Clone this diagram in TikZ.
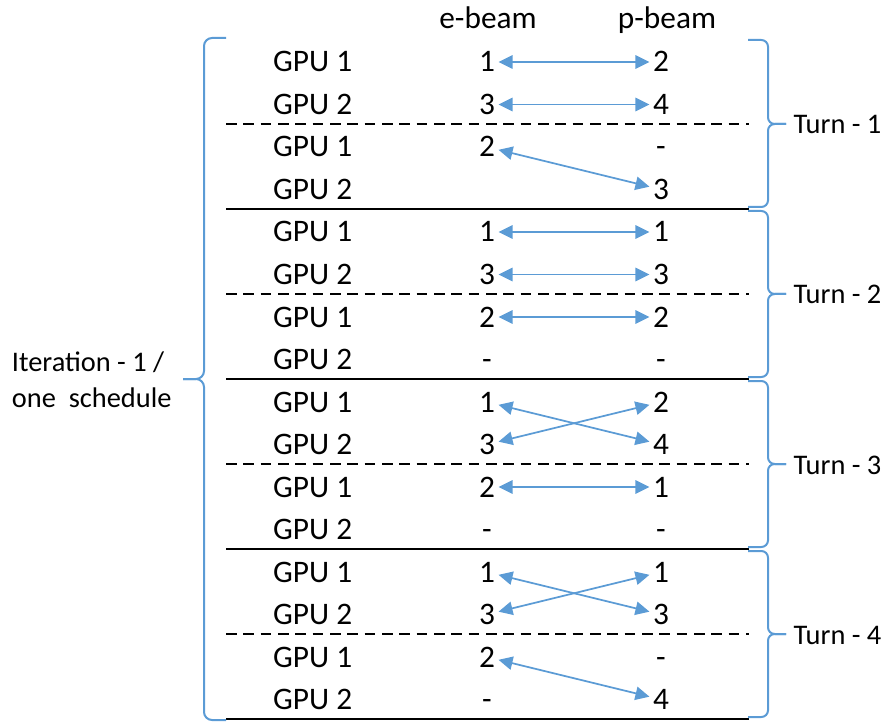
\documentclass[tikz,border=0pt]{standalone}
\usepackage{fontspec}
\setmainfont{Carlito}
\usetikzlibrary{arrows.meta}
\definecolor{linkblue}{HTML}{5B9BD5}

\begin{document}
\begin{tikzpicture}[x=0.75pt,y=-0.75pt,
  every node/.style={font=\fontsize{23.5}{27}\selectfont,inner sep=2pt},
  cell/.style={text height=15pt,text depth=0pt,inner xsep=2.5pt,inner ysep=1pt},
  sidelabel/.style={font=\fontsize{21.3}{27}\selectfont,anchor=west},
  link/.style={linkblue,line width=1.3pt,{Triangle[length=10.5pt,width=10pt]}-{Triangle[length=10.5pt,width=10pt]}},
  brace/.style={linkblue,line width=1.5pt,rounded corners=5pt},
  solidrule/.style={black,line width=1.3pt},
  dashrule/.style={black,line width=1.1pt,dash pattern=on 8pt off 5pt}
]
\useasboundingbox (0,0) rectangle (891,723);

% column headers
\node[cell] (hE) at (488,19) {e-beam};
\node[cell] (hP) at (667,19) {p-beam};

% rows: index / GPU / e-beam / p-beam
\foreach \k/\g/\e/\p in {0/1/1/2, 1/2/3/4, 2/1/2/-, 3/2/{}/3,
                          4/1/1/1, 5/2/3/3, 6/1/2/2, 7/2/-/-,
                          8/1/1/2, 9/2/3/4, 10/1/2/1, 11/2/-/-,
                          12/1/1/1, 13/2/3/3, 14/1/2/-, 15/2/-/4}{
  \node[cell,anchor=west] (g\k) at (269.5,{62+42.5*\k}) {GPU \g};
  \node[cell] (e\k) at (487,{62+42.5*\k}) {\e};
  \node[cell] (p\k) at (661,{62+42.5*\k}) {\p};
}

% separators between groups
\foreach \k in {1,5,9,13}
  \draw[dashrule] (226,{81.5+42.5*\k}) -- (749,{81.5+42.5*\k});
\foreach \k in {3,7,11,15}
  \draw[solidrule] (226,{81.5+42.5*\k}) -- (749,{81.5+42.5*\k});

% pairings
\draw[link] (e0) -- (p0);
\draw[link] (e1) -- (p1);
\draw[link] (e2) -- (p3);
\draw[link] (e4) -- (p4);
\draw[link] (e5) -- (p5);
\draw[link] (e6) -- (p6);
\draw[link] (e8) -- (p9);
\draw[link] (e9) -- (p8);
\draw[link] (e10) -- (p10);
\draw[link] (e12) -- (p13);
\draw[link] (e13) -- (p12);
\draw[link] (e14) -- (p15);

% turn braces
\foreach \t/\top/\tip/\bot in {1/40/124/207, 2/211/294/377, 3/381/464/547, 4/551/634/717}{
  \draw[brace] (748,\top) -| (768,\tip) -- (786,\tip);
  \draw[brace] (748,\bot) -| (768,\tip) -- (786,\tip);
  \node[cell,sidelabel] (turn\t) at (790,\tip) {Turn - \t};
}

% iteration brace
\draw[brace,rounded corners=6pt] (226,38) -| (204,379) -- (183,379);
\draw[brace,rounded corners=6pt] (226,720) -| (204,379) -- (183,379);
\node[sidelabel,align=left] (iter) at (9,380) {Iteration - 1 /\\one~ schedule};
\end{tikzpicture}
\end{document}
